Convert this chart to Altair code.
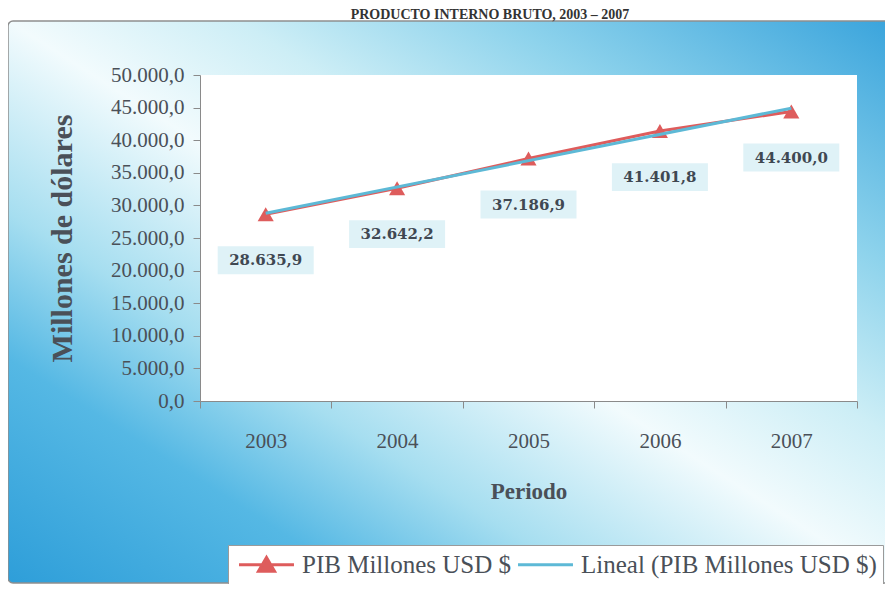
import altair as alt
import pandas as pd

# ---- data ----
years = ["2003", "2004", "2005", "2006", "2007"]
pib = [28635.9, 32642.2, 37186.9, 41401.8, 44400.0]
series_names = ["PIB Millones USD $", "Lineal (PIB Millones USD $)"]
y_ticks = [0, 5000, 10000, 15000, 20000, 25000, 30000, 35000, 40000, 45000, 50000]
title_text = "PRODUCTO INTERNO BRUTO, 2003 – 2007"

df = pd.DataFrame({"year": years, "yr": [int(y) for y in years], "pib": pib})
legend_df = pd.DataFrame({"series": series_names})
one_row = pd.DataFrame({"k": [1]})

# ---- style ----
RED = "#DE5C5C"
BLUE = "#5DB9D6"
TXT = "#4a5058"
SERIF = "Liberation Serif"
W, H = 657, 326
PAD_L, PAD_T, PAD_R, PAD_B = 192, 67, 28, 183

es_fmt = "replace(replace(replace(format({v}, ',.1f'), ',', '_'), '.', ','), '_', '.')"

x_enc = alt.X(
    "year:O",
    scale=alt.Scale(type="band", domain=years, paddingInner=0, paddingOuter=0),
    axis=alt.Axis(
        title="Periodo", tickBand="extent", grid=False, labelAngle=0,
        labelFont=SERIF, labelFontSize=21, labelColor=TXT, labelPadding=22,
        domainColor="#8a8a8a", tickColor="#8a8a8a", tickSize=7,
        titleFont=SERIF, titleFontSize=23, titleFontWeight="bold", titleColor=TXT,
        titleX=W / 2, titleY=90, titleBaseline="middle", titleAlign="center",
        zindex=1,
    ),
)
y_enc = alt.Y(
    "pib:Q",
    scale=alt.Scale(domain=[0, 50000]),
    axis=alt.Axis(
        title="Millones de dólares", values=y_ticks, grid=False,
        labelExpr=es_fmt.format(v="datum.value"),
        labelFont=SERIF, labelFontSize=21, labelColor=TXT, labelPadding=9,
        domainColor="#8a8a8a", tickColor="#8a8a8a", tickSize=7,
        titleFont=SERIF, titleFontSize=30, titleFontWeight="bold", titleColor=TXT,
        titleX=-138, titleY=H / 2, titleAngle=270, titleBaseline="middle", titleAlign="center",
        zindex=1,
    ),
)

gradient = {
    "gradient": "linear", "x1": 0, "y1": 1, "x2": 1, "y2": 0,
    "stops": [
        {"offset": 0.0, "color": "#2e9ed9"},
        {"offset": 0.2, "color": "#55b8e4"},
        {"offset": 0.33, "color": "#a6def0"},
        {"offset": 0.5, "color": "#f2fbfd"},
        {"offset": 0.63, "color": "#cdeef6"},
        {"offset": 0.78, "color": "#8ed3ec"},
        {"offset": 1.0, "color": "#3aa4dc"},
    ],
}

bg = alt.Chart(one_row).mark_rect(
    fill=gradient, stroke="#8f8f8f", strokeWidth=1.5, cornerRadius=5
).encode(
    x=alt.value(-PAD_L), x2=alt.value(W + PAD_R + 6),
    y=alt.value(13 - PAD_T), y2=alt.value(H + PAD_B - 1),
)

plot_bg = alt.Chart(one_row).mark_rect(fill="white").encode(
    x=alt.value(0), x2=alt.value(W), y=alt.value(0), y2=alt.value(H)
)

title = alt.Chart(one_row).mark_text(
    text=title_text, font=SERIF, fontSize=14, fontWeight="bold",
    color="#333333", baseline="alphabetic", align="center",
).encode(x=alt.value(290), y=alt.value(11 - PAD_T))

base = alt.Chart(df).encode(x=x_enc, y=y_enc)

red_line = base.mark_line(color=RED, strokeWidth=3)
markers = base.mark_point(shape="triangle-up", filled=True, size=260, color=RED, opacity=1)

trend = alt.Chart(df).transform_regression(
    "yr", "pib", method="linear"
).transform_calculate(
    year="toString(datum.yr)"
).mark_line(color=BLUE, strokeWidth=3).encode(x=x_enc, y=y_enc)

label_bg = base.mark_point(
    shape="M-1,-0.29H1V0.29H-1Z", size=9216, filled=True,
    fill="#dff2f7", opacity=1, yOffset=46,
)
labels = base.transform_calculate(
    lbl=es_fmt.format(v="datum.pib")
).mark_text(
    font="DejaVu Serif", fontSize=15, fontWeight="bold", color="#3f4852", dy=46, baseline="middle"
).encode(text="lbl:N")

leg_props = dict(
    title=None, orient="none", legendX=28, legendY=470,
    direction="horizontal", columns=2, columnPadding=0,
    padding=6, fillColor="white", strokeColor="#9a9a9a",
    labelFont=SERIF, labelFontSize=25, labelColor=TXT, labelLimit=600,
    symbolOffset=19, labelOffset=22,
    symbolSize=576, symbolStrokeWidth=3, symbolOpacity=1,
    symbolFillColor=RED,
)

legend_layer = alt.Chart(legend_df).mark_point(filled=True, opacity=0).encode(
    fill=alt.Fill(
        "series:N",
        scale=alt.Scale(domain=series_names, range=[RED, BLUE]),
        legend=alt.Legend(**leg_props),
    ),
    stroke=alt.Stroke(
        "series:N",
        scale=alt.Scale(domain=series_names, range=[RED, BLUE]),
        legend=alt.Legend(**leg_props),
    ),
    shape=alt.Shape(
        "series:N",
        scale=alt.Scale(
            domain=series_names,
            range=["M-2.29,0H2.29M-0.67,0.55L0,-0.6L0.67,0.55Z", "M-2.29,0H2.29"],
        ),
        legend=alt.Legend(**leg_props),
    ),
)

chart = alt.layer(
    bg, plot_bg, title, red_line, markers, trend, label_bg, labels, legend_layer
).properties(
    width=W, height=H,
    padding={"left": PAD_L, "top": PAD_T, "right": PAD_R, "bottom": PAD_B},
    autosize=alt.AutoSizeParams(type="none"),
).configure_view(
    strokeWidth=0
).configure_legend(
    labelFont=SERIF, labelFontSize=25, labelColor=TXT, labelLimit=600,
    symbolFillColor=RED, symbolBaseFillColor=RED, symbolStrokeWidth=3,
)

chart.save("out.html", embed_options={"renderer": "svg", "actions": False})
